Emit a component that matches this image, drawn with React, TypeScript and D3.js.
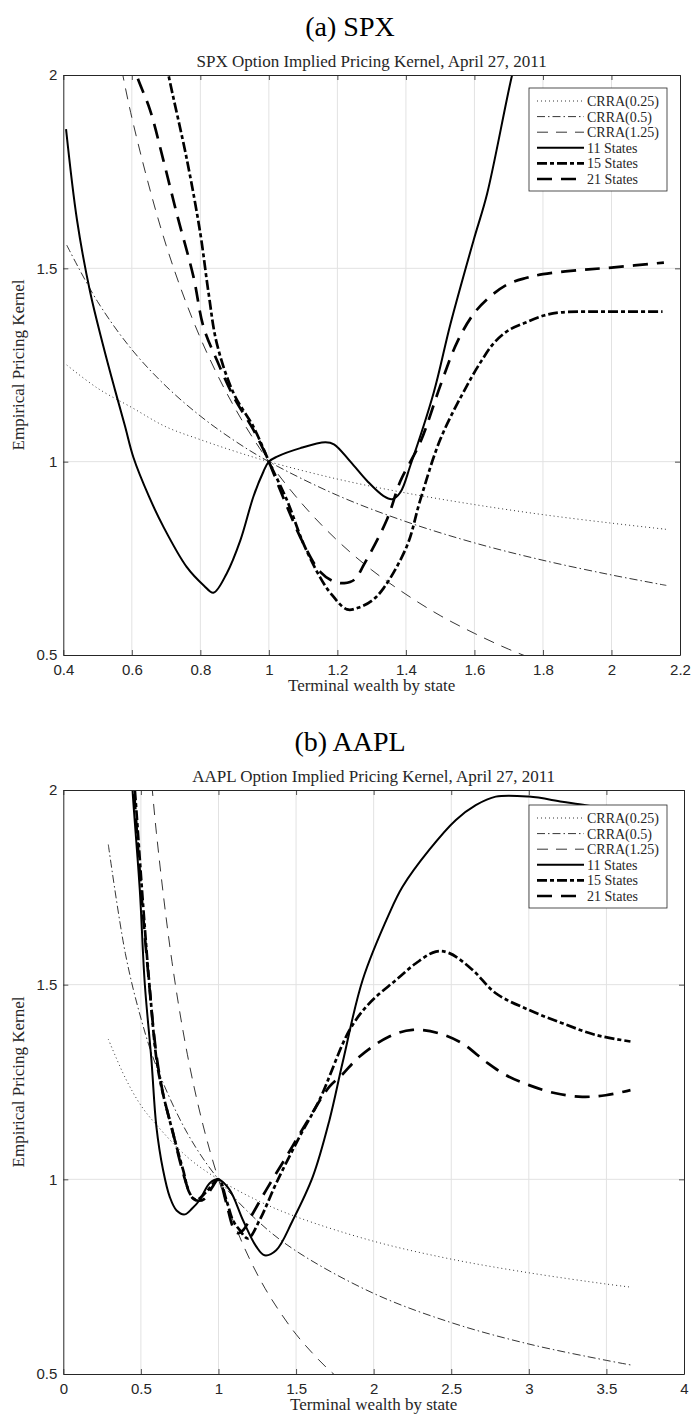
//@ts-nocheck
import * as d3 from "d3";
import React, { useEffect, useRef } from "react";

// ---------- (a) SPX, April 27, 2011 ----------
const spxCrraX = [0.41, 0.5, 0.6, 0.7, 0.8, 0.9, 1.0, 1.2, 1.4, 1.6, 1.8, 2.0, 2.16];
const spxCrra025 = [1.25, 1.19, 1.14, 1.09, 1.057, 1.027, 1.0, 0.955, 0.919, 0.889, 0.863, 0.841, 0.825];
const spxCrra05 = [1.56, 1.414, 1.29, 1.195, 1.118, 1.054, 1.0, 0.913, 0.845, 0.79, 0.745, 0.707, 0.68];

const crra125X = [0.55, 0.6, 0.7, 0.8, 0.9, 1.0, 1.1, 1.2, 1.3, 1.4, 1.5, 1.6, 1.7, 1.8];
const crra125 = [2.11, 1.89, 1.56, 1.32, 1.14, 1.0, 0.888, 0.796, 0.72, 0.657, 0.602, 0.556, 0.515, 0.48];

const spx11X = [0.408, 0.44, 0.478, 0.515, 0.551, 0.58, 0.605, 0.65, 0.692, 0.76, 0.81, 0.838, 0.877, 0.917, 0.955, 0.984, 1.0, 1.024, 1.092, 1.165, 1.19, 1.238, 1.287, 1.335, 1.36, 1.384, 1.413, 1.481, 1.53, 1.598, 1.637, 1.71, 1.74];
const spx11Y = [1.86, 1.625, 1.44, 1.305, 1.185, 1.092, 1.01, 0.91, 0.832, 0.728, 0.68, 0.661, 0.711, 0.797, 0.91, 0.974, 1.0, 1.013, 1.035, 1.05, 1.045, 1.0, 0.95, 0.911, 0.903, 0.921, 0.99, 1.178, 1.356, 1.574, 1.693, 2.0, 2.1];

const spx15X = [0.69, 0.707, 0.761, 0.8, 0.824, 0.848, 0.897, 0.955, 0.994, 1.0, 1.053, 1.1, 1.15, 1.18, 1.228, 1.26, 1.3, 1.335, 1.403, 1.442, 1.501, 1.579, 1.62, 1.657, 1.7, 1.75, 1.803, 1.851, 1.95, 2.05, 2.149];
const spx15Y = [2.08, 2.0, 1.78, 1.59, 1.436, 1.306, 1.177, 1.09, 1.013, 1.0, 0.9, 0.79, 0.7, 0.66, 0.618, 0.622, 0.64, 0.673, 0.782, 0.901, 1.059, 1.198, 1.26, 1.307, 1.34, 1.36, 1.378, 1.386, 1.388, 1.388, 1.388];

const spx21X = [0.6, 0.614, 0.653, 0.692, 0.731, 0.78, 0.809, 0.848, 0.897, 0.955, 0.989, 1.0, 1.05, 1.1, 1.15, 1.19, 1.22, 1.25, 1.277, 1.345, 1.384, 1.442, 1.501, 1.55, 1.6, 1.65, 1.7, 1.75, 1.8, 1.9, 2.0, 2.153];
const spx21Y = [2.05, 2.0, 1.91, 1.78, 1.642, 1.478, 1.349, 1.263, 1.168, 1.082, 1.022, 1.0, 0.89, 0.79, 0.715, 0.69, 0.686, 0.695, 0.733, 0.851, 0.95, 1.05, 1.198, 1.31, 1.385, 1.43, 1.46, 1.475, 1.485, 1.495, 1.502, 1.515];

// ---------- (b) AAPL, April 27, 2011 ----------
const aaplCrraX = [0.29, 0.4, 0.5, 0.6, 0.8, 1.0, 1.25, 1.5, 2.0, 2.5, 3.0, 3.5, 3.66];
const aaplCrra025 = [1.36, 1.26, 1.19, 1.14, 1.057, 1.0, 0.946, 0.904, 0.841, 0.795, 0.76, 0.731, 0.723];
const aaplCrra05 = [1.86, 1.58, 1.414, 1.29, 1.118, 1.0, 0.894, 0.816, 0.707, 0.632, 0.577, 0.535, 0.523];

const aapl11X = [0.44, 0.446, 0.493, 0.525, 0.568, 0.6, 0.643, 0.686, 0.73, 0.783, 0.83, 0.879, 0.943, 0.997, 1.072, 1.158, 1.244, 1.297, 1.372, 1.479, 1.608, 1.715, 1.8, 1.929, 2.101, 2.187, 2.358, 2.53, 2.658, 2.787, 3.001, 3.215, 3.366, 3.5, 3.66];
const aapl11Y = [2.05, 2.0, 1.743, 1.503, 1.306, 1.135, 1.024, 0.955, 0.92, 0.91, 0.925, 0.947, 0.99, 1.0, 0.973, 0.895, 0.827, 0.805, 0.818, 0.895, 1.007, 1.152, 1.3, 1.512, 1.683, 1.752, 1.846, 1.923, 1.961, 1.983, 1.983, 1.97, 1.961, 1.95, 1.94];

const aapl15X = [0.45, 0.461, 0.515, 0.558, 0.611, 0.707, 0.772, 0.815, 0.858, 0.922, 1.0, 1.051, 1.093, 1.136, 1.19, 1.265, 1.372, 1.522, 1.651, 1.844, 1.972, 2.144, 2.273, 2.401, 2.487, 2.637, 2.787, 3.001, 3.215, 3.43, 3.655];
const aapl15Y = [2.05, 2.0, 1.7, 1.486, 1.281, 1.118, 1.024, 0.964, 0.947, 0.968, 1.0, 0.947, 0.895, 0.87, 0.848, 0.895, 0.99, 1.109, 1.204, 1.383, 1.452, 1.512, 1.555, 1.585, 1.581, 1.538, 1.478, 1.435, 1.401, 1.371, 1.354];

const aapl21X = [0.445, 0.455, 0.5, 0.547, 0.6, 0.643, 0.707, 0.761, 0.815, 0.836, 0.87, 0.91, 0.96, 1.0, 1.05, 1.093, 1.125, 1.16, 1.222, 1.308, 1.437, 1.565, 1.715, 1.8, 1.908, 2.101, 2.251, 2.423, 2.572, 2.723, 2.851, 3.001, 3.173, 3.344, 3.495, 3.655];
const aapl21Y = [2.05, 2.0, 1.75, 1.529, 1.32, 1.22, 1.12, 1.032, 0.964, 0.951, 0.945, 0.95, 0.98, 1.0, 0.94, 0.878, 0.862, 0.87, 0.913, 0.973, 1.058, 1.144, 1.238, 1.27, 1.315, 1.367, 1.384, 1.375, 1.349, 1.302, 1.268, 1.242, 1.221, 1.212, 1.216, 1.229];

// ---------- labels / ticks ----------
const legendLabels = ["CRRA(0.25)", "CRRA(0.5)", "CRRA(1.25)", "11 States", "15 States", "21 States"];
const spxTicks = [0.4, 0.6, 0.8, 1, 1.2, 1.4, 1.6, 1.8, 2, 2.2];
const aaplTicks = [0, 0.5, 1, 1.5, 2, 2.5, 3, 3.5, 4];
const kernelTicks = [0.5, 1, 1.5, 2];

// line styles, same order as legendLabels
const lineStyles = [
  { width: 0.8, dash: "1,3" },
  { width: 0.8, dash: "8,3,1.5,3" },
  { width: 0.8, dash: "11,8" },
  { width: 2, dash: null },
  { width: 2.7, dash: "10,3,4,3" },
  { width: 2.7, dash: "15,9" },
];

const ink = "#262626";
const serif = "'Liberation Serif', 'Times New Roman', serif";
const sans = "'Liberation Sans', Arial, sans-serif";

const zip = (xs, ys) => xs.map((x, i) => [x, ys[i]]);

const panels = [
  {
    key: "spx",
    caption: "(a) SPX",
    title: "SPX Option Implied Pricing Kernel, April 27, 2011",
    xDomain: [0.4, 2.2],
    xTicks: spxTicks,
    left: 63.3,
    right: 680,
    top: 75,
    bottom: 655,
    legendY: 88,
    series: [
      zip(spxCrraX, spxCrra025),
      zip(spxCrraX, spxCrra05),
      zip(crra125X, crra125),
      zip(spx11X, spx11Y),
      zip(spx15X, spx15Y),
      zip(spx21X, spx21Y),
    ],
  },
  {
    key: "aapl",
    caption: "(b) AAPL",
    title: "AAPL Option Implied Pricing Kernel, April 27, 2011",
    xDomain: [0, 4],
    xTicks: aaplTicks,
    left: 63.3,
    right: 684,
    top: 790,
    bottom: 1374,
    legendY: 805,
    series: [
      zip(aaplCrraX, aaplCrra025),
      zip(aaplCrraX, aaplCrra05),
      zip(crra125X, crra125),
      zip(aapl11X, aapl11Y),
      zip(aapl15X, aapl15Y),
      zip(aapl21X, aapl21Y),
    ],
  },
];

function drawPanel(svg, p) {
  const x = d3.scaleLinear().domain(p.xDomain).range([p.left, p.right]);
  const y = d3.scaleLinear().domain([0.5, 2]).range([p.bottom, p.top]);
  const g = svg.append("g");
  const fmt = d3.format("~g");

  g.append("text")
    .attr("x", 350)
    .attr("y", p.top - 39)
    .attr("text-anchor", "middle")
    .attr("font-family", serif)
    .attr("font-size", 28)
    .attr("fill", "#000")
    .text(p.caption);

  g.append("text")
    .attr("x", (p.left + p.right) / 2)
    .attr("y", p.top - 8)
    .attr("text-anchor", "middle")
    .attr("font-family", serif)
    .attr("font-size", 17)
    .attr("fill", ink)
    .text(p.title);

  // grid
  const grid = g.append("g").attr("stroke", "#e2e2e2").attr("stroke-width", 1);
  grid
    .selectAll("line.vx")
    .data(p.xTicks.slice(1, -1))
    .join("line")
    .attr("x1", (d) => x(d))
    .attr("x2", (d) => x(d))
    .attr("y1", p.top)
    .attr("y2", p.bottom);
  grid
    .selectAll("line.hy")
    .data(kernelTicks.slice(1, -1))
    .join("line")
    .attr("x1", p.left)
    .attr("x2", p.right)
    .attr("y1", (d) => y(d))
    .attr("y2", (d) => y(d));

  // data lines
  const clipId = "clip-" + p.key;
  svg
    .append("clipPath")
    .attr("id", clipId)
    .append("rect")
    .attr("x", p.left)
    .attr("y", p.top)
    .attr("width", p.right - p.left)
    .attr("height", p.bottom - p.top);

  const line = d3
    .line()
    .x((d) => x(d[0]))
    .y((d) => y(d[1]))
    .curve(d3.curveCatmullRom.alpha(0.5));

  g.append("g")
    .attr("clip-path", `url(#${clipId})`)
    .selectAll("path")
    .data(p.series)
    .join("path")
    .attr("d", (d) => line(d))
    .attr("fill", "none")
    .attr("stroke", "#000")
    .attr("stroke-linejoin", "round")
    .attr("stroke-width", (d, i) => lineStyles[i].width)
    .attr("stroke-dasharray", (d, i) => lineStyles[i].dash);

  // axes (ticks inside, box on)
  const styleAxis = (sel) => {
    sel.select(".domain").attr("stroke", ink).attr("stroke-width", 1);
    sel.selectAll(".tick line").attr("stroke", ink).attr("stroke-width", 0.8);
    sel
      .selectAll(".tick text")
      .attr("fill", ink)
      .attr("font-family", sans)
      .attr("font-size", 15);
  };

  g.append("g")
    .attr("transform", `translate(0,${p.bottom})`)
    .call(
      d3.axisBottom(x).tickValues(p.xTicks).tickSize(-5).tickSizeOuter(0).tickPadding(9).tickFormat(fmt)
    )
    .call(styleAxis);
  g.append("g")
    .attr("transform", `translate(0,${p.top})`)
    .call(d3.axisTop(x).tickValues(p.xTicks).tickSize(-5).tickSizeOuter(0).tickFormat(""))
    .call(styleAxis);
  g.append("g")
    .attr("transform", `translate(${p.left},0)`)
    .call(
      d3.axisLeft(y).tickValues(kernelTicks).tickSize(-5).tickSizeOuter(0).tickPadding(6).tickFormat(fmt)
    )
    .call(styleAxis);
  g.append("g")
    .attr("transform", `translate(${p.right},0)`)
    .call(d3.axisRight(y).tickValues(kernelTicks).tickSize(-5).tickSizeOuter(0).tickFormat(""))
    .call(styleAxis);

  // axis labels
  g.append("text")
    .attr("x", (p.left + p.right) / 2)
    .attr("y", p.bottom + 36)
    .attr("text-anchor", "middle")
    .attr("font-family", serif)
    .attr("font-size", 17)
    .attr("fill", ink)
    .text("Terminal wealth by state");
  g.append("text")
    .attr("transform", `translate(24,${(p.top + p.bottom) / 2}) rotate(-90)`)
    .attr("text-anchor", "middle")
    .attr("font-family", serif)
    .attr("font-size", 17)
    .attr("fill", ink)
    .text("Empirical Pricing Kernel");

  // legend
  const lx = 529;
  const leg = g.append("g").attr("transform", `translate(${lx},${p.legendY})`);
  leg
    .append("rect")
    .attr("width", 138)
    .attr("height", 103)
    .attr("fill", "#fff")
    .attr("stroke", ink)
    .attr("stroke-width", 0.8);
  const item = leg
    .selectAll("g.item")
    .data(legendLabels)
    .join("g")
    .attr("transform", (d, i) => `translate(0,${13 + i * 15.6})`);
  item
    .append("line")
    .attr("x1", 8)
    .attr("x2", 55)
    .attr("stroke", "#000")
    .attr("stroke-width", (d, i) => lineStyles[i].width)
    .attr("stroke-dasharray", (d, i) => lineStyles[i].dash);
  item
    .append("text")
    .attr("x", 58)
    .attr("dy", "0.35em")
    .attr("font-family", serif)
    .attr("font-size", 14)
    .attr("fill", ink)
    .text((d) => d);
}

export default function App() {
  const ref = useRef(null);

  useEffect(() => {
    const svg = d3.select(ref.current);
    svg.selectAll("*").remove();
    panels.forEach((p) => drawPanel(svg, p));
  }, []);

  return (
    <svg
      ref={ref}
      width={692}
      height={1414}
      style={{ position: "absolute", left: 0, top: 0, background: "#fff" }}
    />
  );
}
